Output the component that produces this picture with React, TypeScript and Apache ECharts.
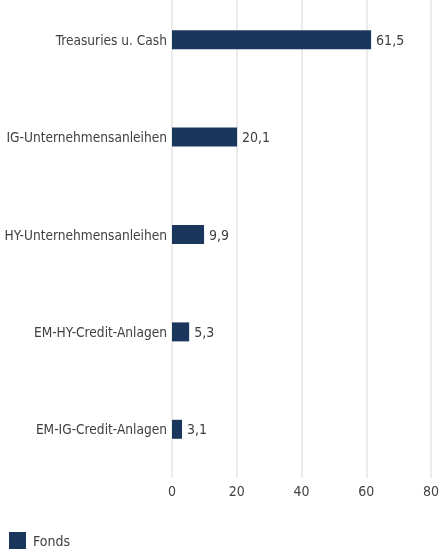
import React, { useEffect, useRef } from "react";
import * as echarts from "echarts";

const categories = [
  "Treasuries u. Cash",
  "IG-Unternehmensanleihen",
  "HY-Unternehmensanleihen",
  "EM-HY-Credit-Anlagen",
  "EM-IG-Credit-Anlagen",
];
const fondsValues = [61.5, 20.1, 9.9, 5.3, 3.1];
const seriesName = "Fonds";

const FONT = '"DejaVu Sans Condensed", "DejaVu Sans", sans-serif';
const TEXT = "#404040";
const BAR = "#1b365d";
const FS = 13.6;

export default function App() {
  const ref = useRef<HTMLDivElement>(null);
  useEffect(() => {
    if (!ref.current) return;
    const chart = echarts.init(ref.current, undefined, { renderer: "svg" });
    chart.setOption({
      animation: false,
      textStyle: { fontFamily: FONT },
      grid: { left: 172, right: 8, top: -9, bottom: 76, containLabel: false, outerBoundsMode: "none" },
      legend: {
        data: [seriesName],
        left: 9,
        top: 532,
        padding: 0,
        itemWidth: 17,
        itemHeight: 17,
        itemGap: 8,
        icon: "rect",
        textStyle: { fontFamily: FONT, fontSize: 14, color: TEXT, padding: [0, 0, 0, 2] },
      },
      xAxis: {
        type: "value",
        min: 0,
        max: 80,
        interval: 20,
        axisLine: { show: false },
        axisTick: { show: false },
        axisLabel: { fontFamily: FONT, fontSize: 14, color: TEXT, margin: 6 },
        splitLine: { show: true, lineStyle: { color: "#ebebeb", width: 2 } },
      },
      yAxis: {
        type: "category",
        data: categories,
        inverse: true,
        axisLine: { show: false },
        axisTick: { show: false },
        axisLabel: { fontFamily: FONT, fontSize: FS, color: TEXT, margin: 5 },
      },
      series: [
        {
          name: seriesName,
          type: "bar",
          data: fondsValues,
          barWidth: 19,
          itemStyle: { color: BAR },
          label: {
            show: true,
            position: "right",
            distance: 5,
            fontFamily: FONT,
            fontSize: 14,
            color: TEXT,
            formatter: (p: any) => String(p.value).replace(".", ","),
          },
        },
      ],
    });
    return () => chart.dispose();
  }, []);
  return (
    <div
      ref={ref}
      style={{ position: "fixed", left: 0, top: 0, width: 439, height: 554 }}
    />
  );
}
